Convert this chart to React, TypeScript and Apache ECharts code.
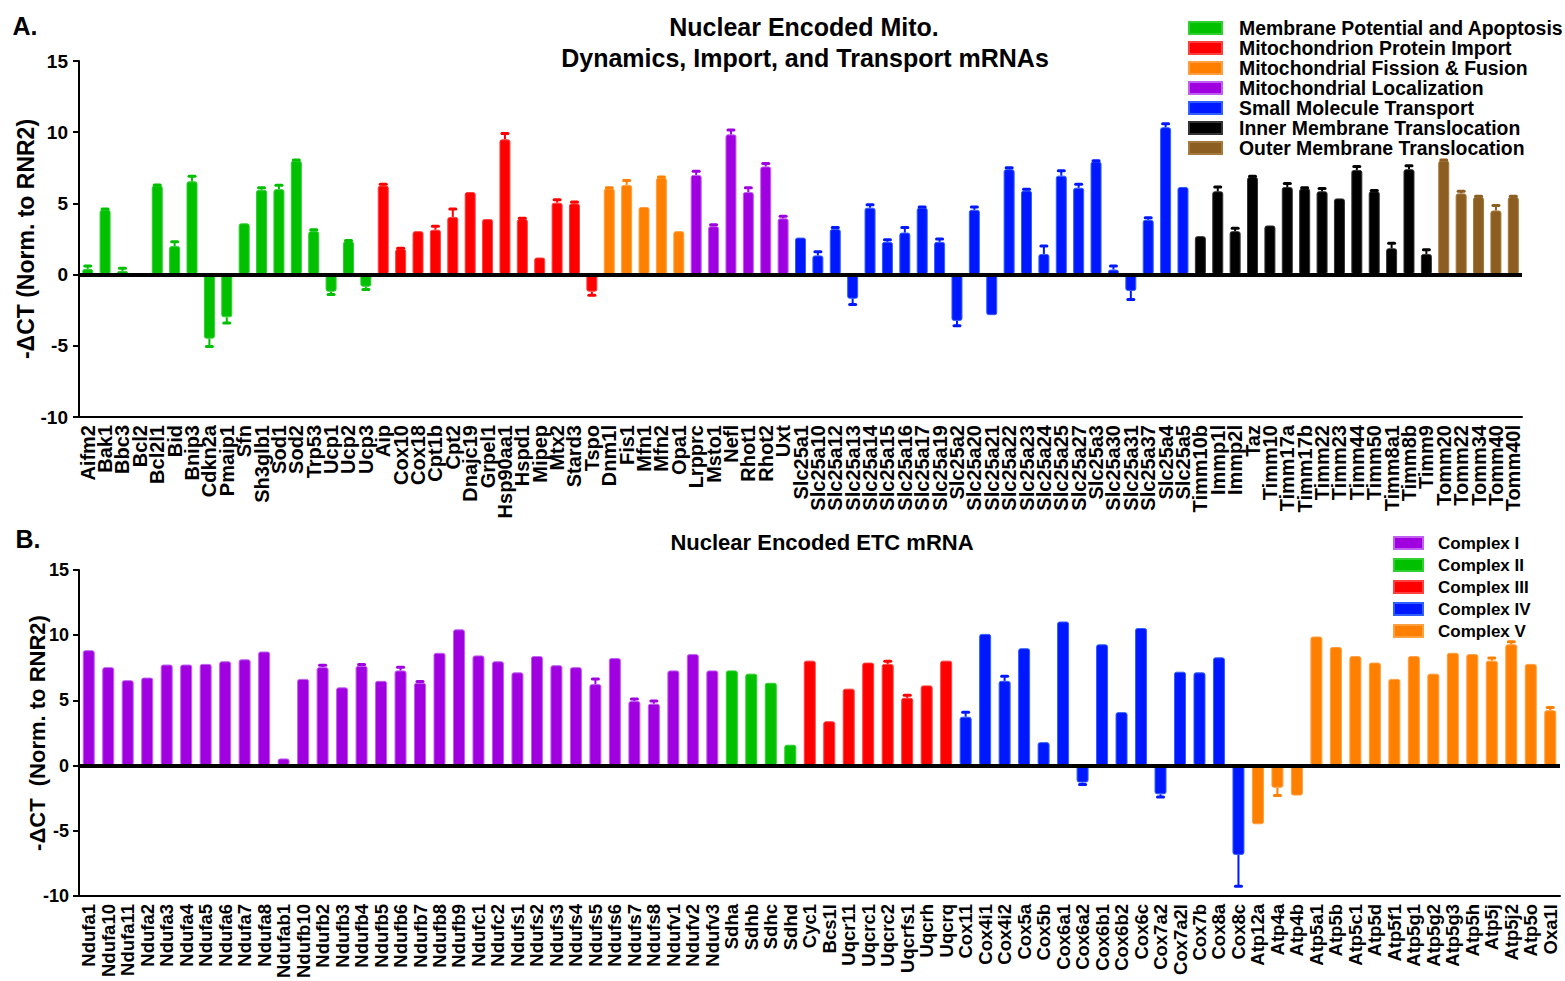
import React, { useEffect, useRef } from 'react';
import * as echarts from 'echarts';

const FONT = '"Liberation Sans", Arial, Helvetica, sans-serif';

// ---------- Panel A ----------
const topGroupNames = [
  'Membrane Potential and Apoptosis',
  'Mitochondrion Protein Import',
  'Mitochondrial Fission & Fusion',
  'Mitochondrial Localization',
  'Small Molecule Transport',
  'Inner Membrane Translocation',
  'Outer Membrane Translocation',
];
const topGroupColors = ['#00C000', '#FF0000', '#FF8000', '#A000E0', '#0018FF', '#000000', '#8C5E22'];
const topGroupBorders = ['#30D030', '#FF4040', '#FFA040', '#C060F0', '#3060FF', '#333333', '#A57A3C'];
const topGroupSizes = [17, 13, 5, 6, 23, 14, 5];

const topCategories = [
  'Aifm2', 'Bak1', 'Bbc3', 'Bcl2', 'Bcl2l1', 'Bid', 'Bnip3', 'Cdkn2a', 'Pmaip1', 'Sfn', 'Sh3glb1', 'Sod1', 'Sod2', 'Trp53', 'Ucp1', 'Ucp2', 'Ucp3',
  'Aip', 'Cox10', 'Cox18', 'Cpt1b', 'Cpt2', 'Dnajc19', 'Grpel1', 'Hsp90aa1', 'Hspd1', 'Mipep', 'Mtx2', 'Stard3', 'Tspo',
  'Dnm1l', 'Fis1', 'Mfn1', 'Mfn2', 'Opa1',
  'Lrpprc', 'Msto1', 'Nefl', 'Rhot1', 'Rhot2', 'Uxt',
  'Slc25a1', 'Slc25a10', 'Slc25a12', 'Slc25a13', 'Slc25a14', 'Slc25a15', 'Slc25a16', 'Slc25a17', 'Slc25a19', 'Slc25a2', 'Slc25a20', 'Slc25a21', 'Slc25a22', 'Slc25a23', 'Slc25a24', 'Slc25a25', 'Slc25a27', 'Slc25a3', 'Slc25a30', 'Slc25a31', 'Slc25a37', 'Slc25a4', 'Slc25a5',
  'Timm10b', 'Immp1l', 'Immp2l', 'Taz', 'Timm10', 'Timm17a', 'Timm17b', 'Timm22', 'Timm23', 'Timm44', 'Timm50', 'Timm8a1', 'Timm8b', 'Timm9',
  'Tomm20', 'Tomm22', 'Tomm34', 'Tomm40', 'Tomm40l',
];
const topValues = [
  0.4, 4.55, 0.25, 0.05, 6.25, 2.0, 6.55, -4.5, -3.0, 3.6, 5.95, 6.0, 8.0, 3.05, -1.2, 2.35, -0.85,
  6.25, 1.8, 3.05, 3.15, 4.05, 5.8, 3.9, 9.5, 3.9, 1.2, 5.05, 5.0, -1.2,
  6.05, 6.3, 4.75, 6.8, 3.05,
  7.0, 3.4, 9.85, 5.8, 7.6, 3.95,
  2.6, 1.35, 3.2, -1.7, 4.7, 2.3, 2.95, 4.7, 2.3, -3.25, 4.55, -2.85, 7.4, 5.9, 1.45, 6.95, 6.1, 7.95, 0.35, -1.15, 3.85, 10.35, 6.15,
  2.7, 5.85, 3.05, 6.85, 3.45, 6.15, 6.05, 5.85, 5.35, 7.35, 5.85, 1.85, 7.4, 1.45,
  8.0, 5.7, 5.45, 4.5, 5.45,
];
const topErrors = [
  0.2, 0.05, 0.2, 0, 0.05, 0.3, 0.35, 0.55, 0.4, 0, 0.15, 0.28, 0.05, 0.1, 0.2, 0.05, 0.2,
  0.1, 0.05, 0, 0.25, 0.55, 0, 0, 0.4, 0.05, 0, 0.2, 0.1, 0.25,
  0.05, 0.3, 0, 0.05, 0,
  0.25, 0.1, 0.3, 0.3, 0.2, 0.15,
  0, 0.25, 0.1, 0.4, 0.2, 0.15, 0.35, 0.05, 0.2, 0.35, 0.2, 0, 0.1, 0.1, 0.55, 0.35, 0.25, 0.05, 0.25, 0.6, 0.15, 0.25, 0,
  0, 0.3, 0.2, 0.05, 0, 0.25, 0.05, 0.2, 0, 0.25, 0.05, 0.35, 0.25, 0.3,
  0.05, 0.15, 0.05, 0.35, 0.05,
];

// ---------- Panel B ----------
const bottomGroupNames = ['Complex I', 'Complex II', 'Complex III', 'Complex IV', 'Complex V'];
const bottomGroupColors = ['#A000E0', '#00C000', '#FF0000', '#0018FF', '#FF8000'];
const bottomGroupBorders = ['#C060F0', '#30D030', '#FF4040', '#3060FF', '#FFA040'];
const bottomGroupSizes = [33, 4, 8, 15, 16];

const bottomCategories = [
  'Ndufa1', 'Ndufa10', 'Ndufa11', 'Ndufa2', 'Ndufa3', 'Ndufa4', 'Ndufa5', 'Ndufa6', 'Ndufa7', 'Ndufa8', 'Ndufab1', 'Ndufb10', 'Ndufb2', 'Ndufb3', 'Ndufb4', 'Ndufb5', 'Ndufb6', 'Ndufb7', 'Ndufb8', 'Ndufb9', 'Ndufc1', 'Ndufc2', 'Ndufs1', 'Ndufs2', 'Ndufs3', 'Ndufs4', 'Ndufs5', 'Ndufs6', 'Ndufs7', 'Ndufs8', 'Ndufv1', 'Ndufv2', 'Ndufv3',
  'Sdha', 'Sdhb', 'Sdhc', 'Sdhd',
  'Cyc1', 'Bcs1l', 'Uqcr11', 'Uqcrc1', 'Uqcrc2', 'Uqcrfs1', 'Uqcrh', 'Uqcrq',
  'Cox11', 'Cox4i1', 'Cox4i2', 'Cox5a', 'Cox5b', 'Cox6a1', 'Cox6a2', 'Cox6b1', 'Cox6b2', 'Cox6c', 'Cox7a2', 'Cox7a2l', 'Cox7b', 'Cox8a', 'Cox8c',
  'Atp12a', 'Atp4a', 'Atp4b', 'Atp5a1', 'Atp5b', 'Atp5c1', 'Atp5d', 'Atp5f1', 'Atp5g1', 'Atp5g2', 'Atp5g3', 'Atp5h', 'Atp5j', 'Atp5j2', 'Atp5o', 'Oxa1l',
];
const bottomValues = [
  8.85, 7.55, 6.55, 6.75, 7.75, 7.75, 7.8, 8.0, 8.15, 8.75, 0.55, 6.65, 7.55, 6.0, 7.65, 6.5, 7.3, 6.35, 8.65, 10.45, 8.45, 8.0, 7.15, 8.4, 7.7, 7.55, 6.25, 8.25, 4.95, 4.75, 7.3, 8.55, 7.3,
  7.3, 7.05, 6.35, 1.6,
  8.05, 3.4, 5.9, 7.9, 7.8, 5.2, 6.15, 8.05,
  3.75, 10.1, 6.5, 9.0, 1.8, 11.05, -1.3, 9.3, 4.1, 10.55, -2.2, 7.2, 7.15, 8.3, -6.85,
  -4.5, -1.7, -2.3, 9.9, 9.1, 8.4, 7.9, 6.65, 8.4, 7.05, 8.65, 8.55, 8.05, 9.3, 7.8, 4.25,
];
const bottomErrors = [
  0, 0, 0, 0, 0, 0, 0, 0, 0, 0, 0, 0, 0.15, 0, 0.1, 0, 0.25, 0.1, 0, 0, 0, 0, 0, 0, 0, 0, 0.4, 0, 0.15, 0.2, 0, 0, 0,
  0, 0, 0, 0,
  0, 0, 0, 0, 0.2, 0.2, 0, 0,
  0.35, 0, 0.35, 0, 0, 0, 0.15, 0, 0, 0, 0.2, 0, 0, 0, 2.4,
  0, 0.6, 0, 0, 0, 0, 0, 0, 0, 0, 0, 0, 0.2, 0.2, 0, 0.2,
];

const yTicks = { min: -10, max: 15, interval: 5 };

function groupIndex(sizes: number[]): number[] {
  const out: number[] = [];
  sizes.forEach((n, g) => {
    for (let i = 0; i < n; i++) out.push(g);
  });
  return out;
}

function buildSeries(
  axisIdx: number,
  names: string[],
  colors: string[],
  borders: string[],
  sizes: number[],
  values: number[],
  errors: number[],
  barWidth: number
): any[] {
  const groupOf = groupIndex(sizes);
  const series: any[] = names.map((name, g) => ({
    type: 'bar',
    name,
    xAxisIndex: axisIdx,
    yAxisIndex: axisIdx,
    barWidth,
    barGap: '-100%',
    itemStyle: { color: colors[g], borderColor: borders[g], borderWidth: 1, borderRadius: 2 },
    data: values.map((v, i) => (groupOf[i] === g ? v : '-')),
    z: 2,
    markLine:
      g === 0
        ? {
            silent: true,
            symbol: ['none', 'none'],
            label: { show: false },
            lineStyle: { color: '#000', width: 4, type: 'solid' },
            emphasis: { disabled: true },
            data: [{ yAxis: 0 }],
            z: 6,
          }
        : undefined,
  }));
  series.push({
    type: 'custom',
    xAxisIndex: axisIdx,
    yAxisIndex: axisIdx,
    silent: true,
    z: 3,
    data: values.map((v, i) => [i, v, errors[i], groupOf[i]]),
    renderItem: (_params: any, api: any) => {
      const i = api.value(0);
      const v = api.value(1);
      const e = api.value(2);
      const g = api.value(3);
      if (!e) return null;
      const end = v + (v >= 0 ? e : -e);
      const p0 = api.coord([i, v]);
      const p1 = api.coord([i, end]);
      const color = colors[g];
      return {
        type: 'group',
        children: [
          {
            type: 'line',
            shape: { x1: p0[0], y1: p0[1], x2: p1[0], y2: p1[1] },
            style: { stroke: color, lineWidth: 2 },
          },
          {
            type: 'line',
            shape: { x1: p1[0] - 3, y1: p1[1], x2: p1[0] + 3, y2: p1[1] },
            style: { stroke: color, lineWidth: 3, lineCap: 'round' },
          },
        ],
      };
    },
  });
  return series;
}

function xAxisCfg(gridIndex: number, data: string[], fontSize: number) {
  return {
    type: 'category',
    gridIndex,
    data,
    axisLine: { onZero: false, lineStyle: { color: '#000', width: 2 } },
    axisTick: { alignWithLabel: true, length: 6, lineStyle: { color: '#000', width: 2 } },
    axisLabel: {
      interval: 0,
      rotate: 90,
      margin: 8,
      color: '#000',
      fontFamily: FONT,
      fontWeight: 'bold',
      fontSize,
    },
    splitLine: { show: false },
  };
}

function yAxisCfg(
  gridIndex: number,
  name: string,
  nameGap: number,
  nameSize: number,
  labelSize: number,
  labelMargin: number
) {
  return {
    type: 'value',
    gridIndex,
    min: yTicks.min,
    max: yTicks.max,
    interval: yTicks.interval,
    name,
    nameLocation: 'middle',
    nameRotate: 90,
    nameGap,
    nameMoveOverlap: false,
    nameTextStyle: { color: '#000', fontFamily: FONT, fontWeight: 'bold', fontSize: nameSize },
    axisLine: { show: true, lineStyle: { color: '#000', width: 2 } },
    axisTick: { show: true, length: 6, lineStyle: { color: '#000', width: 2 } },
    axisLabel: { color: '#000', fontFamily: FONT, fontWeight: 'bold', fontSize: labelSize, margin: labelMargin },
    splitLine: { show: false },
  };
}

function textEl(text: string, x: number, y: number, size: number) {
  return {
    type: 'text',
    x,
    y,
    style: {
      text,
      fill: '#000',
      fontFamily: FONT,
      fontWeight: 'bold',
      fontSize: size,
      textAlign: 'center',
      textVerticalAlign: 'middle',
    },
  };
}

export default function App() {
  const ref = useRef<HTMLDivElement>(null);

  useEffect(() => {
    if (!ref.current) return;
    const chart = echarts.init(ref.current, undefined, { renderer: 'svg' });
    const option: any = {
      animation: false,
      backgroundColor: '#fff',
      grid: [
        { left: 79, right: 43, top: 61, height: 356 },
        { left: 79, right: 5, top: 570, height: 330 },
      ],
      xAxis: [xAxisCfg(0, topCategories, 20), xAxisCfg(1, bottomCategories, 18.5)],
      yAxis: [
        yAxisCfg(0, '-ΔCT (Norm. to RNR2)', 42, 23, 19, 11),
        yAxisCfg(1, '-ΔCT  (Norm. to RNR2)', 31, 22, 18, 10),
      ],
      legend: [
        {
          data: topGroupNames,
          orient: 'vertical',
          left: 1188,
          top: 18,
          padding: 0,
          itemGap: 0,
          itemWidth: 33,
          itemHeight: 12,
          icon: 'rect',
          selectedMode: false,
          textStyle: {
            color: '#000',
            fontFamily: FONT,
            fontWeight: 'bold',
            fontSize: 19.4,
            lineHeight: 20,
            padding: [0, 0, 0, 12],
          },
        },
        {
          data: bottomGroupNames,
          orient: 'vertical',
          left: 1393,
          top: 532,
          padding: 0,
          itemGap: 0,
          itemWidth: 29,
          itemHeight: 12,
          icon: 'rect',
          selectedMode: false,
          textStyle: {
            color: '#000',
            fontFamily: FONT,
            fontWeight: 'bold',
            fontSize: 17,
            lineHeight: 22,
            padding: [0, 0, 0, 10],
          },
        },
      ],
      graphic: [
        textEl('A.', 25, 26, 25),
        textEl('Nuclear Encoded Mito.', 804, 27, 25),
        textEl('Dynamics, Import, and Transport mRNAs', 805, 57.5, 25),
        textEl('B.', 28, 539, 25),
        textEl('Nuclear Encoded ETC mRNA', 822, 542, 22),
      ],
      series: [
        ...buildSeries(0, topGroupNames, topGroupColors, topGroupBorders, topGroupSizes, topValues, topErrors, 11),
        ...buildSeries(1, bottomGroupNames, bottomGroupColors, bottomGroupBorders, bottomGroupSizes, bottomValues, bottomErrors, 12),
      ],
    };
    chart.setOption(option);
    return () => chart.dispose();
  }, []);

  return (
    <div
      ref={ref}
      style={{ position: 'absolute', left: 0, top: 0, width: 1565, height: 981, background: '#fff' }}
    />
  );
}
